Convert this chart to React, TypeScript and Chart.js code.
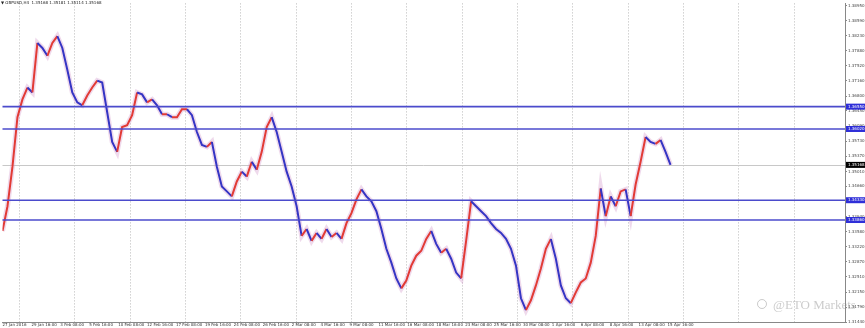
import React, { useEffect, useRef } from 'react';
import { Chart, registerables } from 'chart.js';
Chart.register(...registerables);

// price path, one value per ~5px of the time axis
const closes: number[] = [
  1.33600, 1.34187, 1.35126, 1.36300, 1.36722, 1.37004, 1.36887, 1.38061, 1.37943, 1.37756,
  1.38061, 1.38225, 1.37943, 1.37427, 1.36887, 1.36652, 1.36582, 1.36816, 1.37004, 1.37169,
  1.37122, 1.36417, 1.35713, 1.35478, 1.36065, 1.36112, 1.36347, 1.36887, 1.36840, 1.36652,
  1.36722, 1.36582, 1.36370, 1.36370, 1.36300, 1.36300, 1.36488, 1.36488, 1.36347, 1.35948,
  1.35642, 1.35595, 1.35713, 1.35126, 1.34656, 1.34539, 1.34421, 1.34774, 1.35008, 1.34891,
  1.35243, 1.35055, 1.35478, 1.36065, 1.36300, 1.35948, 1.35478, 1.35008, 1.34656, 1.34187,
  1.33482, 1.33647, 1.33365, 1.33553, 1.33412, 1.33647, 1.33459, 1.33553, 1.33412, 1.33787,
  1.34022, 1.34351, 1.34586, 1.34421, 1.34304, 1.34069, 1.33647, 1.33177, 1.32848, 1.32473,
  1.32238, 1.32426, 1.32778, 1.33013, 1.33130, 1.33412, 1.33600, 1.33294, 1.33083, 1.33177,
  1.32942, 1.32613, 1.32473, 1.33365, 1.34304, 1.34187, 1.34069, 1.33952, 1.33787, 1.33647,
  1.33553, 1.33412, 1.33177, 1.32778, 1.32003, 1.31721, 1.31956, 1.32308, 1.32707, 1.33177,
  1.33412, 1.32942, 1.32308, 1.32003, 1.31886, 1.32144, 1.32379, 1.32473, 1.32848, 1.33482,
  1.34609, 1.33952, 1.34421, 1.34187, 1.34539, 1.34586, 1.33952, 1.34703, 1.35243, 1.35830,
  1.35713, 1.35666, 1.35760, 1.35478, 1.35168,
];

const xLabels: string[] = [
  '27 Jan 2016', '29 Jan 16:00', '3 Feb 08:00', '5 Feb 16:00', '10 Feb 08:00', '12 Feb 16:00',
  '17 Feb 08:00', '19 Feb 16:00', '24 Feb 08:00', '26 Feb 16:00', '2 Mar 08:00', '4 Mar 16:00',
  '9 Mar 08:00', '11 Mar 16:00', '16 Mar 08:00', '18 Mar 16:00', '23 Mar 08:00', '25 Mar 16:00',
  '30 Mar 08:00', '1 Apr 16:00', '6 Apr 08:00', '8 Apr 16:00', '13 Apr 08:00', '15 Apr 16:00',
];

const yTickLabels: string[] = [
  '1.38950', '1.38590', '1.38230', '1.37880', '1.37520', '1.37160', '1.36800', '1.36450',
  '1.36090', '1.35730', '1.35370', '1.35010', '1.34660', '1.34300', '1.33940', '1.33580',
  '1.33220', '1.32870', '1.32510', '1.32150', '1.31790', '1.31440',
];

const levels: number[] = [1.3655, 1.3602, 1.3433, 1.3386];
const levelLabels: string[] = ['1.36550', '1.36020', '1.34330', '1.33860'];
const bid = 1.35168;
const bidLabel = '1.35168';
const title = '▼ GBPUSD,H4  1.35168 1.35181 1.35114 1.35168';
const watermark = '@ETO Markets';

const RED = '#e23b36';
const BLUE = '#3535c4';
const LEVEL = '#4b4bcc';
const X_MAX = 169;
const LABEL_STEP = 5.8;
const GRID_START = 3.4;
const GRID_STEP = 11.1;

export default function App() {
  const ref = useRef<HTMLCanvasElement | null>(null);
  useEffect(() => {
    document.body.style.margin = '0';
    const canvas = ref.current!;
    const pts = closes.map((v, i) => ({ x: i, y: v }));
    const overlay = {
      id: 'overlay',
      beforeDatasetsDraw(chart: any) {
        const { ctx, chartArea } = chart;
        const ys = chart.scales.y;
        ctx.save();
        const by = Math.round(ys.getPixelForValue(bid)) + 0.5;
        ctx.strokeStyle = '#c8c8c8';
        ctx.lineWidth = 1;
        ctx.beginPath();
        ctx.moveTo(chartArea.left, by);
        ctx.lineTo(chartArea.right, by);
        ctx.stroke();
        ctx.restore();
      },
      afterDraw(chart: any) {
        const { ctx, chartArea } = chart;
        const ys = chart.scales.y;
        ctx.save();
        ctx.strokeStyle = LEVEL;
        ctx.lineWidth = 1.6;
        levels.forEach((lv) => {
          const y = ys.getPixelForValue(lv);
          ctx.beginPath();
          ctx.moveTo(chartArea.left, y);
          ctx.lineTo(chartArea.right, y);
          ctx.stroke();
        });
        ctx.font = '4px "DejaVu Sans"';
        ctx.textBaseline = 'middle';
        ctx.textAlign = 'left';
        levels.forEach((lv, i) => {
          const y = ys.getPixelForValue(lv);
          ctx.fillStyle = '#2f2fd8';
          ctx.fillRect(chartArea.right + 1, y - 3, 19, 6);
          ctx.fillStyle = '#ffffff';
          ctx.fillText(levelLabels[i], chartArea.right + 3, y);
        });
        const by = ys.getPixelForValue(bid);
        ctx.fillStyle = '#000000';
        ctx.fillRect(chartArea.right + 1, by - 3, 19, 6);
        ctx.fillStyle = '#ffffff';
        ctx.fillText(bidLabel, chartArea.right + 3, by);
        // title
        ctx.fillStyle = '#222';
        ctx.font = '4px "DejaVu Sans"';
        ctx.fillText(title, 1, 3);
        // watermark
        ctx.fillStyle = 'rgba(140,140,140,0.45)';
        ctx.font = '13px "Liberation Serif"';
        ctx.textBaseline = 'alphabetic';
        ctx.fillText(watermark, 773, 309);
        ctx.strokeStyle = 'rgba(140,140,140,0.45)';
        ctx.lineWidth = 1;
        ctx.beginPath();
        ctx.arc(762, 304, 4.5, 0, Math.PI * 2);
        ctx.stroke();
        ctx.restore();
      },
    };
    const chart = new Chart(canvas, {
      type: 'line',
      data: {
        datasets: [
          {
            data: pts,
            borderColor: RED,
            borderWidth: 2,
            pointRadius: 0,
            tension: 0,
            segment: {
              borderColor: (c: any) => (c.p1.parsed.y >= c.p0.parsed.y ? RED : BLUE),
            },
            order: 1,
          },
          {
            data: pts,
            borderColor: 'rgba(210,150,200,0.35)',
            borderWidth: 5,
            pointRadius: 0,
            tension: 0,
            order: 2,
          },
        ],
      },
      plugins: [overlay],
      options: {
        responsive: false,
        animation: false,
        layout: { padding: 0 },
        plugins: { legend: { display: false }, tooltip: { enabled: false } },
        scales: {
          x: {
            type: 'linear',
            min: 0,
            max: X_MAX,
            position: 'bottom',
            afterFit: (s: any) => { s.height = 6; },
            afterBuildTicks: (s: any) => { s.ticks = xLabels.map((_, i) => ({ value: i * LABEL_STEP })); },
            ticks: {
              autoSkip: false,
              maxRotation: 0,
              align: 'start',
              padding: 0,
              color: '#333',
              font: { size: 4, family: 'DejaVu Sans' },
              callback: (_v: any, i: number) => xLabels[i],
            },
            grid: { drawOnChartArea: false, drawTicks: true, tickLength: 1, color: '#888' },
            border: { display: true, color: '#888' },
          },
          xg: {
            type: 'linear',
            min: 0,
            max: X_MAX,
            position: 'bottom',
            afterFit: (s: any) => { s.height = 0; },
            afterBuildTicks: (s: any) => {
              const t: any[] = [];
              for (let v = GRID_START; v < X_MAX; v += GRID_STEP) t.push({ value: v });
              s.ticks = t;
            },
            ticks: { display: false },
            grid: { color: '#b8b8b8', drawTicks: false, lineWidth: 1 },
            border: { display: false, dash: [1, 2] },
          } as any,
          y: {
            type: 'linear',
            position: 'right',
            min: 1.3144,
            max: 1.39,
            afterFit: (s: any) => { s.width = 20; },
            afterBuildTicks: (s: any) => { s.ticks = yTickLabels.map((l) => ({ value: parseFloat(l) })); },
            ticks: {
              autoSkip: false,
              padding: 1,
              color: '#444',
              font: { size: 4, family: 'DejaVu Sans' },
              callback: (_v: any, i: number) => yTickLabels[i],
            },
            grid: { drawOnChartArea: false, drawTicks: true, tickLength: 2, color: '#888' },
            border: { display: true, color: '#888' },
          },
        },
      } as any,
    });
    // dotted vertical grid
    (chart.options.scales as any).xg.grid.borderDash = [1, 2];
    (chart.options.scales as any).xg.border.dash = [1, 2];
    chart.update();
    return () => chart.destroy();
  }, []);
  return (
    <div style={{ width: 865, height: 328 }}>
      <canvas ref={ref} width={865} height={328} style={{ display: 'block' }} />
    </div>
  );
}
